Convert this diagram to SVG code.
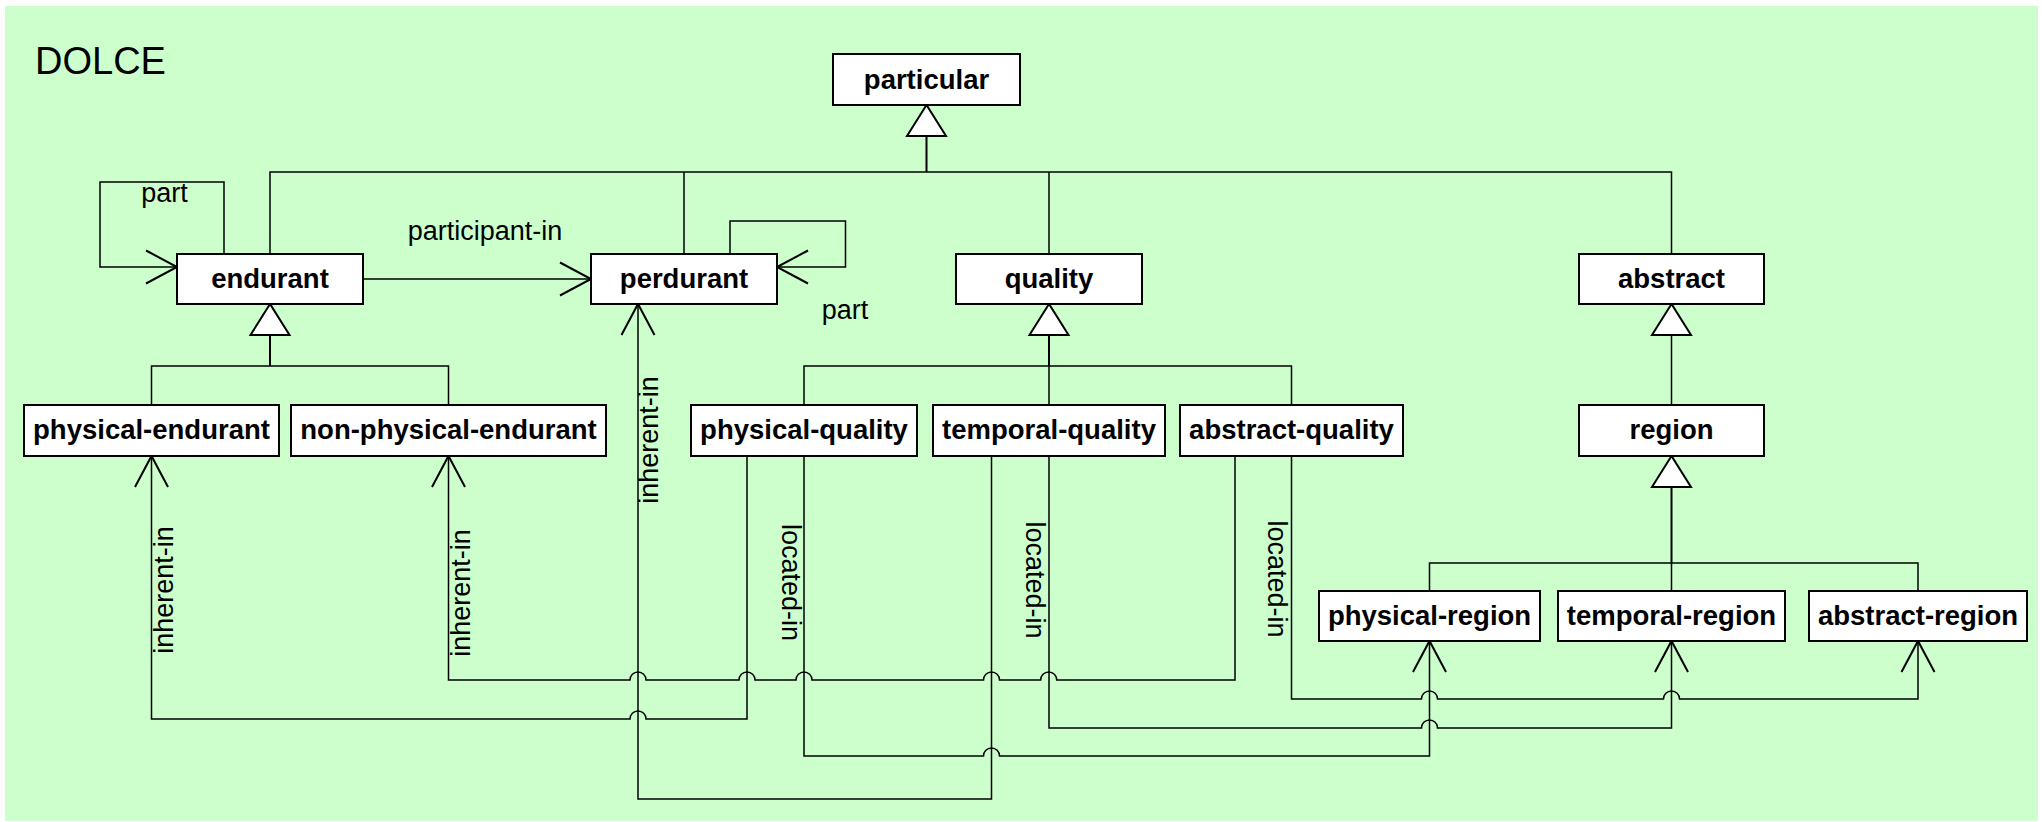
<svg xmlns="http://www.w3.org/2000/svg" width="2042" height="822" viewBox="0 0 2042 822">
<style>
.box{fill:#fff;stroke:#000;stroke-width:2}
.nl{font-family:"Liberation Sans",Arial,sans-serif;font-weight:bold;font-size:27.5px;text-anchor:middle;fill:#000}
.el{font-family:"Liberation Sans",Arial,sans-serif;font-size:27px;text-anchor:middle;fill:#000}
.ln{fill:none;stroke:#000;stroke-width:1.5}
.trunk{fill:none;stroke:#000;stroke-width:2}
.tri{fill:#fff;stroke:#000;stroke-width:2}
.as{fill:none;stroke:#000;stroke-width:1.5;marker-end:url(#open)}
</style>
<defs>
<marker id="open" markerUnits="userSpaceOnUse" markerWidth="36" markerHeight="38" viewBox="-34 -19 36 38" refX="0" refY="0" orient="auto" overflow="visible">
<path d="M-31,-16.5 L0,0 L-31,16.5" fill="none" stroke="#000" stroke-width="2"/>
</marker>
</defs>
<rect x="0" y="0" width="2042" height="822" fill="#fff"/>
<rect x="5" y="6" width="2033" height="815" fill="#CCFFCC"/>
<text x="35" y="74" style="font-family:'Liberation Sans',Arial,sans-serif;font-size:38px;fill:#000">DOLCE</text>

<g id="connectors">
<!-- generalization: particular -->
<polygon class="tri" points="926.5,105 907,136 946,136"/>
<path class="trunk" d="M926.5,136 V172"/>
<path class="ln" d="M270,254 V172 H1671.5 V254 M684,172 V254 M1049,172 V254"/>
<!-- endurant -->
<polygon class="tri" points="270,304 250.5,335 289.5,335"/>
<path class="trunk" d="M270,335 V366"/>
<path class="ln" d="M151.5,405 V366 H448.5 V405"/>
<!-- quality -->
<polygon class="tri" points="1049,304 1029.5,335 1068.5,335"/>
<path class="trunk" d="M1049,335 V366"/>
<path class="ln" d="M804,405 V366 H1291.5 V405 M1049,366 V405"/>
<!-- abstract -->
<polygon class="tri" points="1671.5,304 1652,335 1691,335"/>
<path class="ln" d="M1671.5,335 V405"/>
<!-- region -->
<polygon class="tri" points="1671.5,456 1652,487 1691,487"/>
<path class="trunk" d="M1671.5,487 V563"/>
<path class="ln" d="M1429.5,591 V563 H1918 V591 M1671.5,563 V591"/>

<!-- associations -->
<path class="as" d="M224,254 V182 H100 V267 H177"/>
<text class="el" x="164.5" y="202">part</text>
<path class="as" d="M363,279 H591"/>
<text class="el" x="485" y="240">participant-in</text>
<path class="as" d="M730,254 V221 H845.5 V267 H777"/>
<text class="el" x="845" y="319">part</text>

<path class="as" d="M747,456 V719 H646 a8,8 0 0 0 -16,0 H151.5 V456"/>
<text class="el" transform="translate(173,590) rotate(-90)">inherent-in</text>
<path class="as" d="M1235,456 V680 H1056.7 a8,8 0 0 0 -16,0 H999.5 a8,8 0 0 0 -16,0 H812 a8,8 0 0 0 -16,0 H755 a8,8 0 0 0 -16,0 H646 a8,8 0 0 0 -16,0 H448.5 V456"/>
<text class="el" transform="translate(470,593) rotate(-90)">inherent-in</text>
<path class="as" d="M991.5,456 V799 H638 V304"/>
<text class="el" transform="translate(658,440) rotate(-90)">inherent-in</text>

<path class="as" d="M804,456 V756 H983.5 a8,8 0 0 1 16,0 H1429.5 V641"/>
<text class="el" transform="translate(782,582.5) rotate(90)">located-in</text>
<path class="as" d="M1049,456 V728 H1421.5 a8,8 0 0 1 16,0 H1671.5 V641"/>
<text class="el" transform="translate(1026,580) rotate(90)">located-in</text>
<path class="as" d="M1291.5,456 V699 H1421.5 a8,8 0 0 1 16,0 H1663.5 a8,8 0 0 1 16,0 H1918 V641"/>
<text class="el" transform="translate(1268,579) rotate(90)">located-in</text>
</g>

<g id="particular"><rect class="box" x="833" y="54" width="187" height="51"/><text class="nl" x="926.5" y="89">particular</text></g>
<g id="endurant"><rect class="box" x="177" y="254" width="186" height="50"/><text class="nl" x="270" y="288">endurant</text></g>
<g id="perdurant"><rect class="box" x="591" y="254" width="186" height="50"/><text class="nl" x="684" y="288">perdurant</text></g>
<g id="quality"><rect class="box" x="956" y="254" width="186" height="50"/><text class="nl" x="1049" y="288">quality</text></g>
<g id="abstract"><rect class="box" x="1579" y="254" width="185" height="50"/><text class="nl" x="1671.5" y="288">abstract</text></g>
<g id="physical-endurant"><rect class="box" x="24" y="405" width="255" height="51"/><text class="nl" x="151.5" y="439">physical-endurant</text></g>
<g id="non-physical-endurant"><rect class="box" x="291" y="405" width="315" height="51"/><text class="nl" x="448.5" y="439">non-physical-endurant</text></g>
<g id="physical-quality"><rect class="box" x="691" y="405" width="226" height="51"/><text class="nl" x="804" y="439">physical-quality</text></g>
<g id="temporal-quality"><rect class="box" x="933" y="405" width="232" height="51"/><text class="nl" x="1049" y="439">temporal-quality</text></g>
<g id="abstract-quality"><rect class="box" x="1180" y="405" width="223" height="51"/><text class="nl" x="1291.5" y="439">abstract-quality</text></g>
<g id="region"><rect class="box" x="1579" y="405" width="185" height="51"/><text class="nl" x="1671.5" y="439">region</text></g>
<g id="physical-region"><rect class="box" x="1319" y="591" width="221" height="50"/><text class="nl" x="1429.5" y="625">physical-region</text></g>
<g id="temporal-region"><rect class="box" x="1558" y="591" width="227" height="50"/><text class="nl" x="1671.5" y="625">temporal-region</text></g>
<g id="abstract-region"><rect class="box" x="1809" y="591" width="218" height="50"/><text class="nl" x="1918" y="625">abstract-region</text></g>
</svg>
